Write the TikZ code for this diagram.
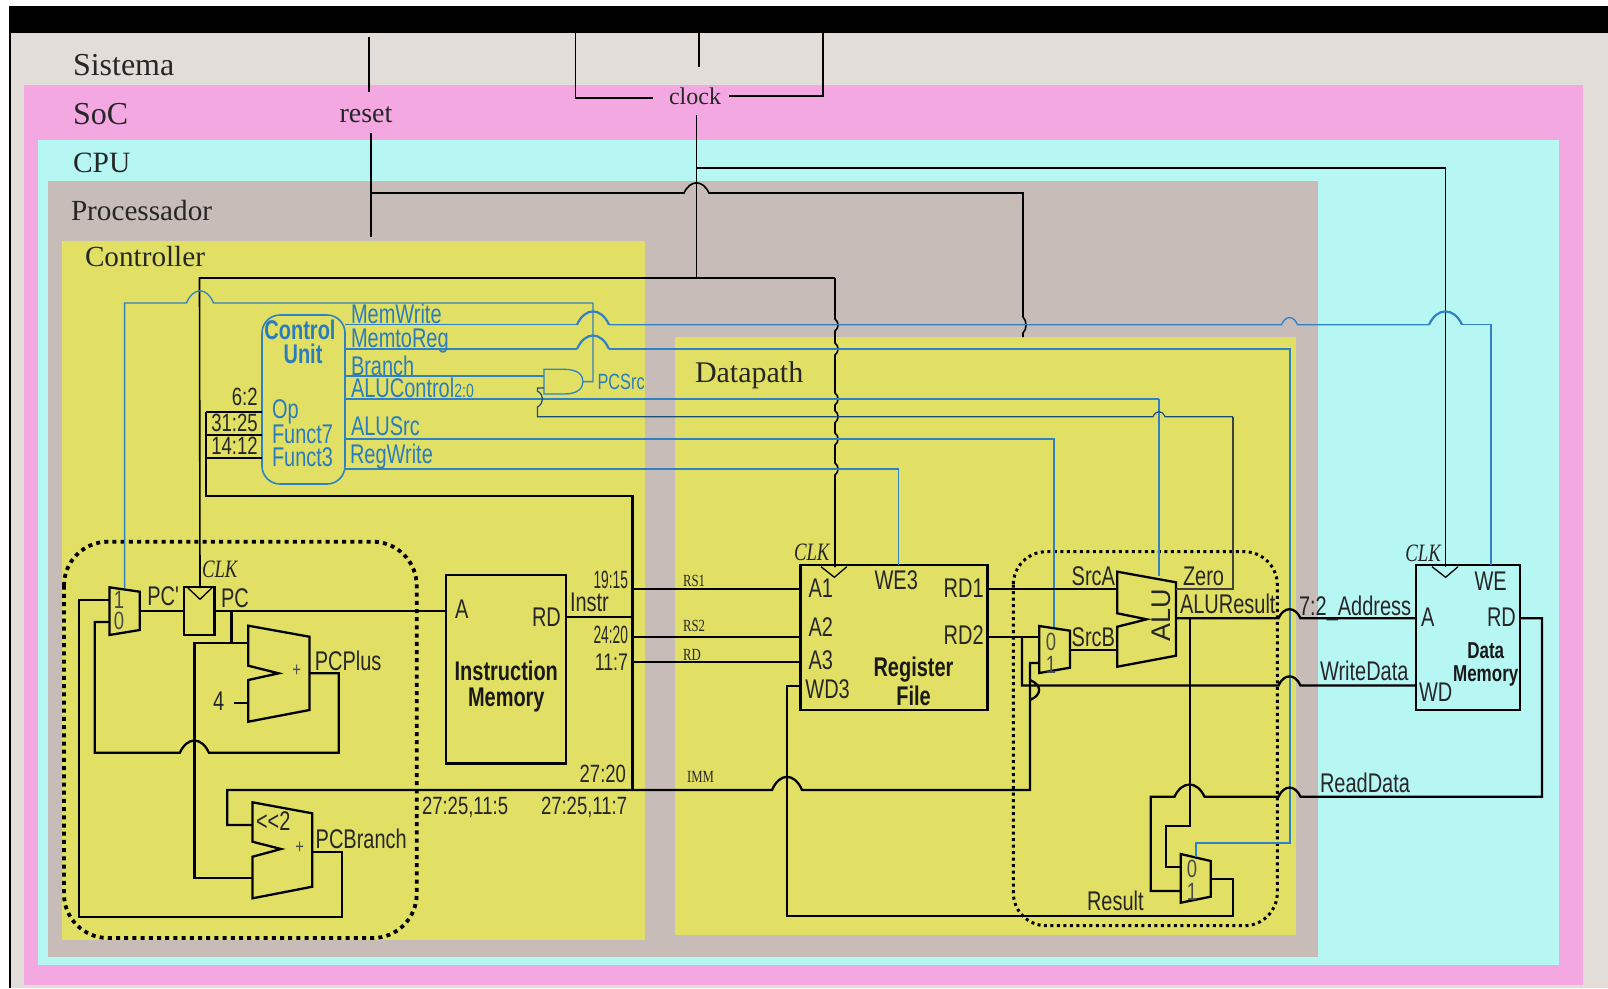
\documentclass[tikz,border=0pt]{standalone}
\usepackage{fontspec}
\newfontfamily\nar[FakeStretch=0.74]{Liberation Sans}
\newfontfamily\nnar[FakeStretch=0.55]{Liberation Sans}
\newfontfamily\ser{Liberation Serif}
\newfontfamily\sernar[FakeStretch=0.75]{Liberation Serif}
\newcommand\fsz[1]{\fontsize{#1}{#1}\selectfont}
\newcommand\hbump[4]{ -- ({#1-(#3)},#2) .. controls ({#1-0.5*(#3)},{#2-1.35*(#4)}) and ({#1+0.5*(#3)},{#2-1.35*(#4)}) .. ({#1+(#3)},#2) }
\newcommand\vbump[4]{ -- (#1,{#2-(#3)}) .. controls ({#1+1.35*(#4)},{#2-0.5*(#3)}) and ({#1+1.35*(#4)},{#2+0.5*(#3)}) .. (#1,{#2+(#3)}) }
\definecolor{sysc}{HTML}{E2DDD9}
\definecolor{socc}{HTML}{F3A8E1}
\definecolor{cpuc}{HTML}{B6F7F4}
\definecolor{proc}{HTML}{C7BCB7}
\definecolor{yelc}{HTML}{E1E064}
\definecolor{bluw}{HTML}{2F80C4}
\definecolor{blut}{HTML}{2A7CBE}
\tikzset{
  wa/.style={line width=2.3pt,line join=miter},
  wb/.style={line width=1.6pt,line join=miter},
  wc/.style={line width=1.1pt,line join=miter},
  bw/.style={line width=1.3pt,draw=bluw,line join=miter},
  bwt/.style={line width=2.2pt,draw=bluw,line join=miter},
  blk/.style={draw,line width=2.4pt,inner sep=0pt,outer sep=0pt,anchor=north west},
  tx/.style={inner sep=0pt,outer sep=0pt,anchor=base west,text=black!85},
  lab/.style={tx,font=\fsz{27}\nar},
  labr/.style={inner sep=0pt,outer sep=0pt,anchor=base east,text=black!85,font=\fsz{25}\nar},
  labn/.style={inner sep=0pt,outer sep=0pt,anchor=base east,text=black!85,font=\fsz{25}\nnar},
  blab/.style={inner sep=0pt,outer sep=0pt,anchor=base west,text=blut,font=\fsz{27}\nar},
  bold/.style={inner sep=0pt,outer sep=0pt,anchor=base,text=black!90,font=\fsz{27}\nar\bfseries},
  head/.style={inner sep=0pt,outer sep=0pt,anchor=base west,text=black!85,font=\fsz{30}\ser},
  clk/.style={inner sep=0pt,outer sep=0pt,anchor=base west,text=black!85,font=\fsz{25}\sernar\itshape},
  sml/.style={inner sep=0pt,outer sep=0pt,anchor=base west,text=black!85,font=\fsz{17}\sernar},
  dig/.style={inner sep=0pt,outer sep=0pt,anchor=center,text=black!70,font=\fsz{25}\nar},
}
\begin{document}
\begin{tikzpicture}[x=1pt,y=-1pt]
\useasboundingbox (0,0) rectangle (1608,988);
% ---------- nested regions
\fill[white] (0,0) rectangle (1608,988);
\fill[sysc] (10,33) rectangle (1608,988);
\fill[socc] (23.5,85) rectangle (1583,985);
\fill[cpuc] (38,140) rectangle (1559,965);
\fill[proc] (48.4,181) rectangle (1318,957);
\fill[yelc] (62,241) rectangle (644.5,940);
\fill[yelc] (675,337) rectangle (1296,935);
\fill[black] (9,6) rectangle (1608,33);
\fill[black] (8.5,33) rectangle (10.5,988);
% ---------- blocks
\node[blk,minimum width=120pt,minimum height=188.3pt] (imem) at (446,575) {};
\node[blk,minimum width=187pt,minimum height=145pt] (rfile) at (800.5,565) {};
\node[blk,minimum width=104pt,minimum height=145pt] (dmem) at (1416,565) {};
\node[blk,minimum width=30.6pt,minimum height=48.3pt] (pcreg) at (184,586.7) {};
\node[draw=bluw,line width=1.6pt,rounded corners=18pt,inner sep=0,outer sep=0,anchor=north west,minimum width=83pt,minimum height=169pt] (cu) at (262,315) {};
\draw[line width=1.3pt] (187.3,587.3) -- (200,599.3) -- (212.5,587.3);
\draw[line width=1.3pt] (821,566.7) -- (834.4,577.3) -- (846.8,566.7);
\draw[line width=1.3pt] (1432,566.7) -- (1445.6,577.3) -- (1458,566.7);
% muxes, adders, ALU
\draw[wa] (109.4,587.3) -- (139.7,591.7) -- (139.7,630) -- (109.4,635) -- cycle;
\draw[wa] (1039.3,626) -- (1070,630.7) -- (1070,667.7) -- (1039.3,673) -- cycle;
\draw[wa] (1180.7,854) -- (1210.7,861) -- (1210.7,896.7) -- (1180.7,902.7) -- cycle;
\draw[wa] (248.3,625.7) -- (309.4,636.7) -- (309.4,710) -- (248.3,721.7) -- (248.3,680) -- (278.6,673.3) -- (248.3,665.7) -- cycle;
\draw[wa] (252.5,802.3) -- (312.3,813.3) -- (312.3,886.7) -- (252.5,898.3) -- (252.5,856.7) -- (281,849) -- (252.5,841.7) -- cycle;
\draw[wa] (1117.3,571.7) -- (1176,582.3) -- (1176,655.7) -- (1117.3,666.7) -- (1117.3,626.7) -- (1146.7,619.3) -- (1117.3,613.3) -- cycle;
% AND gate
\draw[line width=1.3pt,draw=bluw] (564,369.3) -- (544,369.3) -- (544,394) -- (564,394) .. controls (578,394) and (583,388) .. (583,381.6) .. controls (583,375) and (578,369.3) .. (564,369.3);
% dotted areas
\draw[line width=3.8pt,dash pattern=on 4pt off 4.2pt,rounded corners=44pt] (64,541.7) rectangle (416.7,938);
\draw[line width=3pt,dash pattern=on 3pt off 3.5pt,rounded corners=33pt] (1013.3,551.7) rectangle (1277.3,925.7);
% ---------- ports
\coordinate (muxpc1) at (109.4,600);
\coordinate (muxpc0) at (109.4,622);
\coordinate (muxpcs) at (124.6,588);
\coordinate (pcd) at (pcreg.west |- 0,610.7);
\coordinate (pcclk) at (200,588);
\coordinate (a1) at (rfile.west |- 0,589);
\coordinate (a2) at (rfile.west |- 0,637);
\coordinate (a3) at (rfile.west |- 0,661.7);
\coordinate (wd3) at (rfile.west |- 0,686);
\coordinate (rd1) at (rfile.east |- 0,589);
\coordinate (rd2) at (rfile.east |- 0,637);
\coordinate (we3) at (898.6,565);
\coordinate (rfclk) at (835,567);
\coordinate (dma) at (dmem.west |- 0,618.3);
\coordinate (dmwd) at (dmem.west |- 0,685.5);
\coordinate (dmrd) at (dmem.east |- 0,618.3);
\coordinate (dmwe) at (1491,565);
\coordinate (dmclk) at (1445.6,567);
\coordinate (andout) at (583,381.6);
\coordinate (alua) at (1117.3,589);
\coordinate (alub) at (1117.3,650);
\coordinate (aluz) at (1176,589);
\coordinate (alur) at (1176,618.3);
\coordinate (aluc) at (1159,576);
\coordinate (sb0) at (1039.3,637);
\coordinate (sb1) at (1039.3,663);
\coordinate (sbs) at (1054,627);
\coordinate (sbo) at (1070,650);
\coordinate (r0) at (1180.7,867);
\coordinate (r1) at (1180.7,891);
\coordinate (rs) at (1196,857);
\coordinate (ro) at (1210.7,879);
% ---------- reset and clock
\draw[wc] (369,37) -- (369,92);
\coordinate (rstend) at (371,237);
\draw[wb] (371,133) -- (rstend);
\draw[wb] (371,193) \hbump{696.5}{193}{12.5}{10} -- (1023,193) -- (1023,313) \vbump{1023}{325}{8}{3} -- (1023,337);
\draw[wc] (575.6,33) -- (575.6,98) -- (653,98);
\draw[wc] (823,33) -- (823,96) -- (729,96);
\draw[wc] (699,33) -- (699,67);
\draw[wc] (696.5,115) -- (696.5,278);
\draw[wa] (696.5,168) -- (1445.6,168);
\draw[wc] (1445.6,168) -- (dmclk);
\draw[wb] (pcclk) -- (199.5,278) -- (835,278);
\draw[wb] (835,278)
  \vbump{835}{325}{6}{3} \vbump{835}{349}{6}{3} \vbump{835}{399}{6}{3}
  \vbump{835}{416.7}{6}{3} \vbump{835}{439}{6}{3} \vbump{835}{469}{6}{3} -- (rfclk);
% ---------- blue control wires
\draw[bw] (muxpcs) -- (124.6,303) \hbump{200}{303}{13.5}{12} -- (593,303) -- (593,381.6) -- (andout);
\draw[bw] (345,324.7) -- (577,324.7);
\draw[bwt] (577,324.7) .. controls (585,307) and (601,307) .. (609,324.7);
\draw[bw] (609,324.7) \hbump{1289.5}{324.7}{8}{7} -- (1429,324.7);
\draw[bwt] (1429,324.7) .. controls (1437,307) and (1454,307) .. (1462,324.7);
\draw[bw] (1462,324.7) -- (1491,324.7) -- (dmwe);
\draw[bw] (345,349) -- (577,349);
\draw[bwt] (577,349) .. controls (585,331) and (601,331) .. (609,349);
\draw[bw] (609,349) -- (1290,349) -- (1290,843) -- (1196,843) -- (rs);
\draw[bw] (345,376) -- (544,376);
\draw[bwt] (345,399) -- (1159,399);
\draw[bw] (1159,399) -- (aluc);
\draw[line width=1.2pt,draw=black!40!bluw] (544,388) -- (537.5,388) \vbump{537.5}{399}{8}{5} -- (537.5,416.7) \hbump{1159}{416.7}{6}{5} -- (1233,416.7);
\draw[line width=1.2pt,black!75] (1233,416.7) -- (1233,589) -- (aluz);
\draw[bw] (345,439) -- (1054,439) -- (sbs);
\draw[bw] (345,469) -- (898.6,469) -- (we3);
% ---------- instruction bus
\draw[wa] (206,411.7) -- (206,495.7) -- (632.6,495.7) -- (632.6,790);
\draw[wa] (206,411.7) -- (262,411.7);
\draw[wa] (206,435) -- (262,435);
\draw[wa] (206,458) -- (262,458);
\draw[wa] (imem.east |- 0,617) -- (632.6,617);
\draw[wb] (632.6,589) -- (a1);
\draw[wb] (632.6,637) -- (a2);
\draw[wb] (632.6,661.7) -- (a3);
\draw[wa] (252.5,825) -- (227.3,825) -- (227.3,790) \hbump{787}{790}{15}{13} -- (1030,790) -- (1030,700) \vbump{1030}{690}{10}{9} -- (1030,663) -- (sb1);
% ---------- PC logic
\draw[wa] (139.7,610.7) -- (pcd);
\draw[wa] (pcreg.east |- 0,610.7) -- (imem.west |- 0,610.7);
\draw[wa] (231.5,610.7) -- (231.5,643.3);
\draw[wa] (248.3,643.3) -- (194.4,643.3) -- (194.4,878.3) -- (252.5,878.3);
\draw[wa] (233.6,703.3) -- (248.3,703.3);
\draw[wa] (309.4,673.3) -- (338.8,673.3) -- (338.8,752.7) \hbump{194.4}{752.7}{-14.5}{12} -- (94.7,752.7) -- (94.7,622) -- (muxpc0);
\draw[wa] (312.3,851.7) -- (341.8,851.7) -- (341.8,916.7) -- (78.7,916.7) -- (78.7,600) -- (muxpc1);
% ---------- datapath
\draw[wa] (rd1) -- (alua);
\draw[wb] (rd2) -- (sb0);
\draw[wa] (1022,637) -- (1022,685.5) \hbump{1289.5}{685.5}{11}{9} -- (dmwd);
\draw[wa] (sbo) -- (alub);
\draw[wa] (alur) \hbump{1289.5}{618.3}{11}{9} -- (dma);
\draw[wa] (1190,618.3) -- (1190,826) -- (1165.7,826) -- (1165.7,867) -- (r0);
\draw[wa] (dmrd) -- (1542,618.3) -- (1542,796.7) \hbump{1289.5}{796.7}{-11}{9} \hbump{1189.5}{796.7}{-15}{12} -- (1150.7,796.7) -- (1150.7,891) -- (r1);
\draw[wa] (ro) -- (1233,879) -- (1233,915.7) -- (787,915.7) -- (787,686) -- (wd3);
% ---------- headings
\node[head,font=\fsz{32}\ser] (hsis) at (73,75) {Sistema};
\node[head,font=\fsz{32}\ser] (hsoc) at (73,124) {SoC};
\node[head,font=\fsz{29.5}\ser] (hcpu) at (73,172) {CPU};
\node[head,font=\fsz{29.2}\ser] (hpro) at (71,220) {Processador};
\node[head,font=\fsz{29.2}\ser] (hcon) at (85,266) {Controller};
\node[head] (hdat) at (695,382) {Datapath};
\node[inner sep=0,anchor=base,text=black!85,font=\fsz{28}\ser] (treset) at (366,122) {reset};
\node[inner sep=0,anchor=base,text=black!85,font=\fsz{24}\ser] (tclock) at (695,104) {clock};
% ---------- control unit text
\node[blab,anchor=base,font=\fsz{27}\nar\bfseries] (tc1) at (300,339) {Control};
\node[blab,anchor=base,font=\fsz{27}\nar\bfseries] (tc2) at (303,363) {Unit};
\node[blab] (top) at (272,418) {Op};
\node[blab] (tf7) at (272,443) {Funct7};
\node[blab] (tf3) at (272,466) {Funct3};
\node[blab] (tmw) at (351,323) {MemWrite};
\node[blab] (tmr) at (351,347) {MemtoReg};
\node[blab] (tbr) at (351,375) {Branch};
\node[blab] (tac) at (351,397) {ALUControl\fsz{19}2:0};
\node[blab] (tas) at (351,435) {ALUSrc};
\node[blab] (trw) at (350,463) {RegWrite};
\node[blab,font=\fsz{22}\nar] (tpcs) at (597.6,389) {PCSrc};
\node[labr] (t62) at (257.6,405.7) {6:2};
\node[labr] (t3125) at (257.6,431) {31:25};
\node[labr] (t1412) at (257.6,454) {14:12};
% ---------- PC labels
\node[dig] (tm1) at (119,600) {1};
\node[dig] (tm0) at (119,621) {0};
\node[lab] (tpcp) at (147.3,605) {PC'};
\node[lab] (tpc) at (221,607.3) {PC};
\node[clk] (tclk1) at (202,577.7) {CLK};
\node[lab] (tplus) at (314.8,670) {PCPlus};
\node[lab] (tbran) at (315.7,848.3) {PCBranch};
\node[dig,font=\fsz{20}\nar] (tp1) at (296.7,671) {+};
\node[dig,font=\fsz{20}\nar] (tp2) at (299.7,847.7) {+};
\node[lab] (t4) at (213,710) {4};
\node[lab] (tsl) at (256,830) {{<}{<}2};
% ---------- instruction memory
\node[lab] (tia) at (455,618) {A};
\node[lab] (tird) at (532,626.7) {RD};
\node[lab] (tins) at (570,611.7) {Instr};
\node[bold] (tim1) at (506.3,680) {Instruction};
\node[bold] (tim2) at (506.3,706.7) {Memory};
\node[labn] (t1915) at (628,588) {19:15};
\node[labn] (t2420) at (628,643) {24:20};
\node[labr,font=\fsz{24}\nar] (t117) at (628,670) {11:7};
\node[labr,font=\fsz{25}\nar] (t2720) at (626,782.7) {27:20};
\node[lab,font=\fsz{25}\nar] (t1) at (422,814) {27:25,11:5};
\node[lab,font=\fsz{25}\nar] (t2) at (541,814) {27:25,11:7};
\node[sml] (trs1) at (683,586) {RS1};
\node[sml] (trs2) at (683,631.7) {RS2};
\node[sml] (trd) at (683,660) {RD};
\node[sml] (timm) at (687,782.7) {IMM};
% ---------- register file
\node[clk] (tclk2) at (794,560) {CLK};
\node[lab] (tra1) at (808.5,597.3) {A1};
\node[lab] (tra2) at (808.5,636) {A2};
\node[lab] (tra3) at (808.5,669.3) {A3};
\node[lab] (trw3) at (805.4,698.7) {WD3};
\node[lab] (twe3) at (874.6,589.3) {WE3};
\node[lab] (trd1) at (943.7,597.3) {RD1};
\node[lab] (trd2) at (943.7,644.7) {RD2};
\node[bold] (trf1) at (913.5,676.7) {Register};
\node[bold] (trf2) at (913.5,705) {File};
% ---------- ALU and muxes
\node[lab] (tsa) at (1071.7,585) {SrcA};
\node[lab] (tsb) at (1071.7,646.7) {SrcB};
\node[lab] (tzero) at (1183,585) {Zero};
\node[lab] (talr) at (1180,613) {ALUResult};
\node[lab] (tres) at (1087,910) {Result};
\node[inner sep=0,rotate=90,text=black!85,font=\fsz{27}\fontspec{Liberation Sans}] (talu) at (1161.7,615) {ALU};
\node[dig] (ts0) at (1051,642) {0};
\node[dig] (ts1) at (1051,665) {1};
\node[dig] (tr0) at (1192,869) {0};
\node[dig] (tr1) at (1192,892) {1};
% ---------- data memory
\node[clk] (tclk3) at (1405.4,561) {CLK};
\node[lab] (tdwe) at (1474.6,590.7) {WE};
\node[lab] (tda) at (1421,626.7) {A};
\node[lab] (tdrd) at (1487,626.7) {RD};
\node[lab] (tdwd) at (1419,701) {WD};
\node[bold,font=\fsz{23}\nar\bfseries] (tdm1) at (1485.7,658.3) {Data};
\node[bold,font=\fsz{23}\nar\bfseries] (tdm2) at (1485.7,681) {Memory};
\node[lab] (tadr) at (1299,615) {7:2\_Address};
\node[lab] (twd) at (1320,680.7) {WriteData};
\node[lab] (trdd) at (1320,792.3) {ReadData};
\end{tikzpicture}
\end{document}
